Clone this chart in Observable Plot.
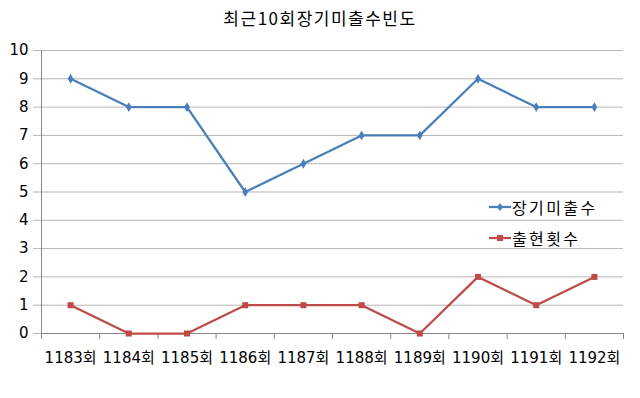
<!DOCTYPE html>
<html><head><meta charset="utf-8">
<script src="https://cdn.jsdelivr.net/npm/d3@7"></script>
<script src="https://cdn.jsdelivr.net/npm/@observablehq/plot@0.6"></script>
<style>
body{margin:0;background:#fff;font-family:"Noto Sans CJK KR","Noto Sans",sans-serif;}
#wrap{position:relative;width:640px;height:398px;}
#title{height:36px;line-height:36px;text-align:center;font-size:17px;letter-spacing:1.5px;color:#000;}
#legend{position:absolute;left:489px;top:191px;font-size:16px;letter-spacing:2.4px;color:#000;}
.item{display:flex;align-items:center;height:31px;}
.item svg{margin-right:1px;}
</style></head><body>
<div id="wrap"><div id="title">최근10회장기미출수빈도</div><div id="chart"></div><div id="legend"></div></div>
<script>
const rounds = ["1183회","1184회","1185회","1186회","1187회","1188회","1189회","1190회","1191회","1192회"];
const missing = [9,8,8,5,6,7,7,9,8,8];
const appear = [1,0,0,1,1,1,0,2,1,2];
const yTicks = [0,1,2,3,4,5,6,7,8,9,10];
const seriesNames = ["장기미출수","출현횟수"];
const colors = ["#4A7EBB","#BE4B48"];

const idx = rounds.map((d,i)=>i);
const bounds = d3.range(-0.5, rounds.length, 1);
const dataA = idx.map(i=>({i, v: missing[i]}));
const dataB = idx.map(i=>({i, v: appear[i]}));

const chart = Plot.plot({
  width: 640, height: 362,
  marginTop: 14, marginBottom: 65, marginLeft: 41, marginRight: 17,
  style: {fontFamily: '"DejaVu Sans","Noto Sans CJK KR",sans-serif', fontSize: "15px", color: "#000", background: "#fff"},
  x: {type: "linear", domain: [-0.5, rounds.length - 0.5]},
  y: {domain: [0, 10]},
  marks: [
    Plot.gridY(yTicks, {stroke: "#b5b5b5", strokeOpacity: 1}),
    Plot.axisY(yTicks, {tickSize: 8, tickPadding: 5, stroke: "#b5b5b5", fontSize: 15, label: null}),
    Plot.ruleX([-0.5], {y1: 0, y2: 10, stroke: "#868686"}),
    Plot.ruleY([0], {stroke: "#868686"}),
    Plot.axisX(bounds, {tickSize: 6, tickFormat: () => "", stroke: "#868686", label: null}),
    Plot.axisX(idx, {tickSize: 0, tickPadding: 19, tickFormat: i => rounds[i], fontSize: 15, label: null}),
    Plot.line(dataA, {x: "i", y: "v", stroke: colors[0], strokeWidth: 2.25}),
    Plot.dot(dataA, {x: "i", y: "v", symbol: "diamond", r: 3, fill: colors[0], stroke: null}),
    Plot.line(dataB, {x: "i", y: "v", stroke: colors[1], strokeWidth: 2.25}),
    Plot.dot(dataB, {x: "i", y: "v", symbol: "square", r: 3.4, fill: colors[1], stroke: null})
  ]
});
document.getElementById("chart").appendChild(chart);

const legend = document.getElementById("legend");
seriesNames.forEach((name, k) => {
  const div = document.createElement("div");
  div.className = "item";
  const sym = k === 0
    ? `<path d="M11,2 L14,6 L11,10 L8,6 Z" fill="${colors[0]}"/>`
    : `<rect x="8" y="3" width="6" height="6" fill="${colors[1]}"/>`;
  div.innerHTML = `<svg width="22" height="12"><line x1="0" y1="6" x2="22" y2="6" stroke="${colors[k]}" stroke-width="2.25"/>${sym}</svg><span>${name}</span>`;
  legend.appendChild(div);
});
</script>
</body></html>
